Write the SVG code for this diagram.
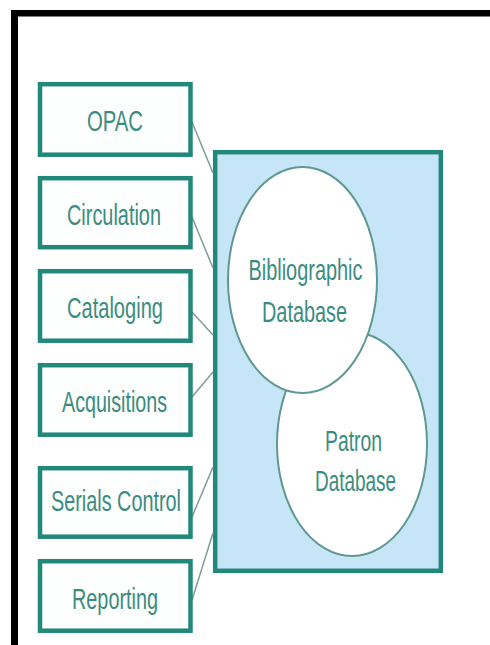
<svg xmlns="http://www.w3.org/2000/svg" width="490" height="645" viewBox="0 0 490 645">
<style>
.box{fill:#fdfefe;stroke:#22887a;stroke-width:4.5}
.lbl{font-family:"Liberation Sans",Arial,sans-serif;font-size:30px;fill:#3b8c80;text-anchor:middle}
.conn{stroke:#7d9d99;stroke-width:1.5;fill:none}
.ell{fill:#ffffff;stroke:#5f9890;stroke-width:2}
</style>
<rect width="490" height="645" fill="#ffffff"/>
<g id="frame">
<rect x="11" y="10" width="479" height="6.5" fill="#000"/>
<rect x="11" y="10" width="7" height="635" fill="#000"/>
</g>
<g id="database">
<rect x="215.2" y="152.2" width="225.6" height="418.6" fill="#c6e6f7" stroke="#22887a" stroke-width="4.5"/>
</g>
<g id="patron-db">
<ellipse class="ell" cx="352" cy="444" rx="75" ry="112"/>
<text class="lbl" x="353.5" y="451" textLength="57" lengthAdjust="spacingAndGlyphs">Patron</text>
<text class="lbl" x="355.5" y="491" textLength="81" lengthAdjust="spacingAndGlyphs">Database</text>
</g>
<g id="biblio-db">
<ellipse class="ell" cx="302.5" cy="280" rx="74.5" ry="113"/>
<text class="lbl" x="305.5" y="280" textLength="114" lengthAdjust="spacingAndGlyphs">Bibliographic</text>
<text class="lbl" x="304.5" y="322" textLength="85" lengthAdjust="spacingAndGlyphs">Database</text>
</g>
<g id="connectors">
<line class="conn" x1="192" y1="122" x2="213" y2="173"/>
<line class="conn" x1="192" y1="217" x2="213" y2="268"/>
<line class="conn" x1="192" y1="312" x2="213" y2="335"/>
<line class="conn" x1="192" y1="397" x2="213" y2="372"/>
<line class="conn" x1="192" y1="517" x2="213" y2="467"/>
<line class="conn" x1="192" y1="600" x2="213" y2="533"/>
</g>
<g id="opac">
<rect class="box" x="40" y="84.2" width="150.5" height="70.5"/>
<text class="lbl" x="115" y="130.5" textLength="56" lengthAdjust="spacingAndGlyphs">OPAC</text>
</g>
<g id="circulation">
<rect class="box" x="40" y="178.2" width="150.5" height="69"/>
<text class="lbl" x="114" y="224.5" textLength="94" lengthAdjust="spacingAndGlyphs">Circulation</text>
</g>
<g id="cataloging">
<rect class="box" x="40" y="271.2" width="150.5" height="69.5"/>
<text class="lbl" x="115" y="318" textLength="96" lengthAdjust="spacingAndGlyphs">Cataloging</text>
</g>
<g id="acquisitions">
<rect class="box" x="40" y="365.2" width="150.5" height="69.5"/>
<text class="lbl" x="114.5" y="411.5" textLength="105" lengthAdjust="spacingAndGlyphs">Acquisitions</text>
</g>
<g id="serials-control">
<rect class="box" x="40" y="468.2" width="150.5" height="68.5"/>
<text class="lbl" x="116" y="510.5" textLength="130" lengthAdjust="spacingAndGlyphs">Serials Control</text>
</g>
<g id="reporting">
<rect class="box" x="40" y="561.2" width="150.5" height="69.5"/>
<text class="lbl" x="115" y="609" textLength="86" lengthAdjust="spacingAndGlyphs">Reporting</text>
</g>
</svg>
